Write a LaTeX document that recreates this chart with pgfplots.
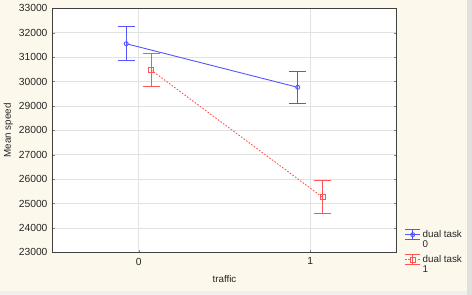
\documentclass[border=0pt]{standalone}
\usepackage{pgfplots}
\pgfplotsset{compat=1.18}
\usepackage{fontspec}
\setmainfont{Liberation Sans}
\definecolor{bgcream}{HTML}{FDF8EC}
\definecolor{sblue}{RGB}{85,85,255}
\definecolor{sred}{RGB}{255,85,85}
\definecolor{gridgray}{HTML}{E2E2E2}
\definecolor{axgray}{HTML}{404040}
\begin{document}
\begin{tikzpicture}[x=1pt,y=1pt]
\fill[bgcream] (0,0) rectangle (472,295);
\fill[black!12] (467,0) rectangle (472,295);
\fill[black!6] (0,0) rectangle (467,3.5);
\path (0,0) rectangle (472,295);
\begin{axis}[
  at={(53pt,42.7pt)}, anchor=south west,
  scale only axis, width=343pt, height=244pt,
  xmin=-0.5, xmax=1.5, ymin=23000, ymax=33000,
  xtick={0,1}, ytick={23000,24000,...,33000},
  axis background/.style={fill=white},
  axis line style={axgray, line width=1pt},
  grid=major, major grid style={gridgray, line width=0.8pt},
  tick align=inside, major tick length=2pt,
  xtick pos=bottom, ytick pos=both,
  scaled y ticks=false,
  unbounded coords=jump,
  /pgf/number format/assume math mode=true,
  /pgf/number format/1000 sep={},
  ticklabel style={font=\fontsize{10.3}{11}\selectfont, text=black!85},
  yticklabel style={xshift=-2pt},
  xticklabel style={yshift=-2pt},
  xlabel={traffic}, ylabel={Mean speed},
  label style={font=\fontsize{9.8}{11}\selectfont, text=black!85},
  xlabel style={yshift=-3pt},
  ylabel style={yshift=-1pt},
  legend cell align=left,
  legend style={at={(rel axis cs:1.025,0.10)}, anchor=north west, draw=none, fill=none,
    font=\fontsize{9.8}{10.5}\selectfont, inner sep=0pt, row sep=2pt,
    cells={align=left}, text=black!85},
  legend image code/.code={
    \begin{scope}[yshift=5pt]
    \draw[#1,solid] (0pt,-5pt) -- (15pt,-5pt) (0pt,5pt) -- (15pt,5pt) (7.5pt,-5pt) -- (7.5pt,5pt);
    \draw[#1] (0pt,0pt) -- (15pt,0pt);
    \draw[#1,solid] plot coordinates {(7.5pt,0pt)};
    \end{scope}
  },
]
% error bars (drawn from the data: mean +- error)
\addplot[sblue, solid, line width=1pt, forget plot] coordinates {
  (-0.073,30864) (-0.073,32234) (nan,nan)
  (-0.123,32234) (-0.023,32234) (nan,nan)
  (-0.123,30864) (-0.023,30864) (nan,nan)
  (0.927,29094) (0.927,30430) (nan,nan)
  (0.877,30430) (0.977,30430) (nan,nan)
  (0.877,29094) (0.977,29094)};
\addplot[sred, solid, line width=1pt, forget plot] coordinates {
  (0.072,29789) (0.072,31153) (nan,nan)
  (0.022,31153) (0.122,31153) (nan,nan)
  (0.022,29789) (0.122,29789) (nan,nan)
  (1.072,24584) (1.072,25924) (nan,nan)
  (1.022,25924) (1.122,25924) (nan,nan)
  (1.022,24584) (1.122,24584)};
\addplot[sblue, line width=0.9pt, mark=o, mark size=2pt,
  mark options={solid, fill=white}]
  coordinates {(-0.073,31549) (0.927,29762)};
\addlegendentry{dual task\\0}
\addplot[sred, line width=0.9pt, dash pattern=on 1.6pt off 1.6pt, mark=square, mark size=2.5pt,
  mark options={solid, fill=white}]
  coordinates {(0.072,30471) (1.072,25254)};
\addlegendentry{dual task\\1}
\end{axis}
\end{tikzpicture}
\end{document}
